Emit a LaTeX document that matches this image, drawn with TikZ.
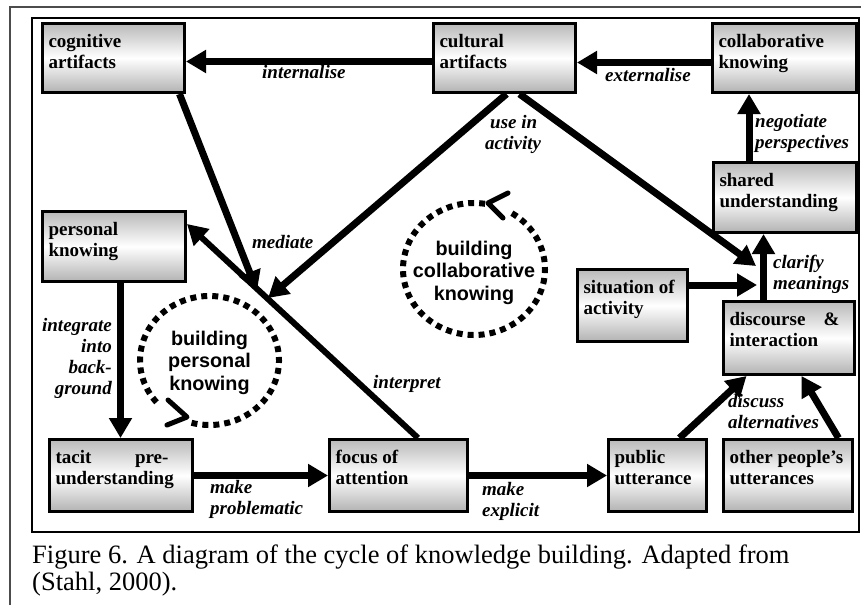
\documentclass[tikz,border=0pt]{standalone}
\usepackage{fontspec}
\setmainfont{Liberation Serif}
\newfontfamily\sansf{Liberation Sans}
\usetikzlibrary{arrows.meta,shadows}
\tikzset{
 boxsty/.style={draw=black, line width=3pt, top color=gray!55, bottom color=gray!60, middle color=white,
   drop shadow={shadow xshift=1.5pt, shadow yshift=-1.5pt, fill=black, opacity=1},
   inner xsep=6pt, inner ysep=0pt, font=\fontsize{19}{21}\selectfont\bfseries},
 arr/.style={line width=7pt, -{Triangle[length=20pt,width=22pt]}},
 thinarr/.style={line width=6pt, -{Triangle[length=20pt,width=22pt]}},
 lab/.style={font=\fontsize{19}{21}\selectfont\bfseries\itshape, inner sep=0pt, align=left},
 circtext/.style={font=\sansf\fontsize{19.8}{22.5}\selectfont\bfseries, align=center, inner sep=0pt},
 dotsty/.style={line width=6pt, dash pattern=on 6pt off 5pt},
 chev/.style={line width=5pt, line cap=round, line join=round},
}
\newcommand\mybox[6]{\node[boxsty, anchor=north west, minimum width=#4pt, minimum height=#5pt] (#1) at (#2,#3)
  {\parbox[c][#5pt][t]{\dimexpr#4pt-12pt\relax}{\raggedright\rule{0pt}{24pt}#6}};}
\begin{document}
\begin{tikzpicture}[x=1pt,y=-1pt]
\useasboundingbox (0,0) rectangle (861,605);
\fill[white] (0,0) rectangle (861,605);
\draw[line width=1.5pt, gray!60!black] (10,605) -- (10,7) -- (861,7);
\draw[line width=2pt] (32,18) rectangle (859,532);

% boxes
\mybox{cog}{41}{22}{142}{69}{cognitive\\artifacts}
\mybox{cult}{432}{22}{142}{69}{cultural\\artifacts}
\mybox{collab}{711}{22}{144}{69}{collaborative\\knowing}
\mybox{pers}{41}{210}{143}{70}{personal\\knowing}
\mybox{shared}{712}{161}{143}{70}{shared\\understanding}
\mybox{sit}{576}{268}{110}{72}{situation of\\activity}
\mybox{disc}{722}{300}{131}{73}{\hbox to 110pt{discourse\hfill\&}\\interaction}
\mybox{tacit}{48}{438}{143}{72}{\hbox to 113pt{tacit\hfill pre-}\\understanding}
\mybox{focus}{328}{438}{138}{72}{focus of\\attention}
\mybox{public}{607}{438}{98}{72}{public\\utterance}
\mybox{other}{722}{438}{129}{72}{other people's\\utterances}

% circles
\coordinate (pc) at (209.5,360.5);
\begin{scope}[shift={(pc)}, y=1pt]
\draw[dotsty] (-105:69.5 and 64.5) arc[start angle=-105, end angle=222, x radius=69.5, y radius=64.5];
\end{scope}
\draw[chev] (168,400) -- (187,417) -- (167,425);
\node[circtext, anchor=north] (ptext) at (209.5,330) {\rule{0pt}{15pt}building\\personal\\knowing};

\coordinate (cc) at (474,269);
\begin{scope}[shift={(cc)}, y=1pt]
\draw[dotsty] (81:71 and 66) arc[start angle=81, end angle=420, x radius=71, y radius=66];
\end{scope}
\draw[chev] (508,193) -- (488,203) -- (503,218);
\node[circtext, anchor=north] (ctext) at (474,240) {\rule{0pt}{15pt}building\\collaborative\\knowing};

% connectors
\coordinate (mA) at (257,291);
\coordinate (mB) at (268,298);
\coordinate (cA) at (757,285);
\coordinate (cB) at (756,266);

\draw[thinarr] ([xshift=90pt]focus.north west) -- ([yshift=-14pt]pers.north east);
\draw[arr] ([yshift=-3.5pt]cult.west) -- ([yshift=-3.5pt]cog.east);
\draw[arr] ([yshift=-4.5pt]collab.west) -- ([yshift=-4.5pt]cult.east);
\coordinate (n1) at ([xshift=37pt]shared.north west);
\draw[arr] (n1) -- (n1 |- collab.south);
\coordinate (n2) at ([xshift=41.5pt]disc.north west);
\draw[arr] (n2) -- (n2 |- shared.south);
\draw[arr] (sit.east |- cA) -- (cA);
\coordinate (d1) at ([xshift=87.5pt]cult.south west);
\draw[arr] (d1) -- (cB);
\coordinate (d2) at ([xshift=74.5pt]cult.south west);
\draw[arr] (d2) -- (mB);
\draw[arr] ([xshift=138.5pt]cog.south west) -- (mA);
\coordinate (n3) at ([xshift=79.5pt]pers.south west);
\draw[arr] (n3) -- (n3 |- tacit.north);
\draw[arr] (tacit.east) -- (focus.west);
\draw[arr] (focus.east) -- (public.west);
\draw[arr] ([xshift=72.5pt]public.north west) -- ([xshift=24.5pt]disc.south west);
\draw[arr] ([xshift=116.5pt]other.north west) -- ([xshift=79.5pt]disc.south west);

% labels
\node[lab, anchor=north west] (l1) at (262,64) {\rule{0pt}{14pt}internalise};
\node[lab, anchor=north west] (l2) at (605,67) {\rule{0pt}{14pt}externalise};
\node[lab, anchor=north west] (l3) at (485,114) {\rule{0pt}{14pt}\hspace*{5pt}use in\\activity};
\node[lab, anchor=north west] (l4) at (755,113) {\rule{0pt}{14pt}negotiate\\perspectives};
\node[lab, anchor=north west] (l5) at (252,234) {\rule{0pt}{14pt}mediate};
\node[lab, anchor=north east, align=right] (l6) at (112,317) {\rule{0pt}{14pt}integrate\\into\\back-\\ground};
\node[lab, anchor=north west] (l7) at (373,374) {\rule{0pt}{14pt}interpret};
\node[lab, anchor=north west] (l8) at (210,479) {\rule{0pt}{14pt}make\\problematic};
\node[lab, anchor=north west] (l9) at (482,481) {\rule{0pt}{14pt}make\\explicit};
\node[lab, anchor=north west] (l10) at (773,254) {\rule{0pt}{14pt}clarify\\meanings};
\node[lab, anchor=north west] (l11) at (728,393) {\rule{0pt}{14pt}discuss\\alternatives};

% caption
\node[anchor=north west, inner sep=0pt, align=left, font=\fontsize{26.5}{27}\selectfont] (cap) at (32,544)
  {\rule{0pt}{19pt}Figure 6. A diagram of the cycle of knowledge building. Adapted from\\(Stahl, 2000).};
\end{tikzpicture}
\end{document}
